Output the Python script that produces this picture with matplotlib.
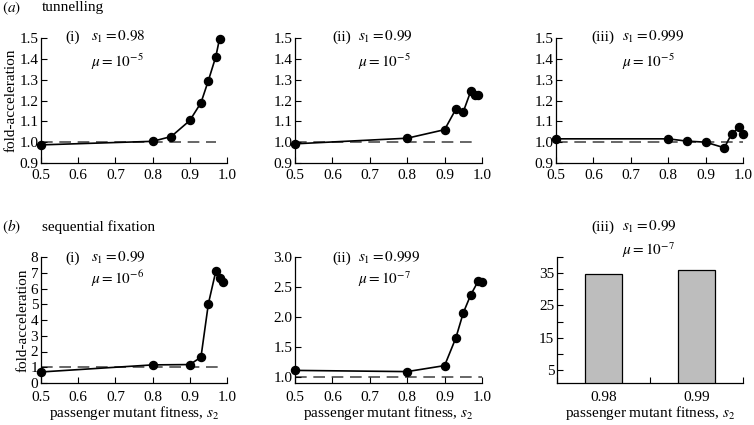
import numpy as np
import matplotlib
matplotlib.use("Agg")
import matplotlib.pyplot as plt

plt.rcParams["font.family"] = ["Liberation Serif", "DejaVu Serif"]
plt.rcParams["mathtext.fontset"] = "stix"
plt.rcParams["font.size"] = 11

# (a) tunnelling
a1_x = [0.5, 0.8, 0.85, 0.9, 0.93, 0.95, 0.97, 0.98]
a1_y = [0.987, 1.004, 1.027, 1.104, 1.189, 1.296, 1.411, 1.497]
a2_x = [0.5, 0.8, 0.9, 0.93, 0.95, 0.97, 0.98, 0.99]
a2_y = [0.992, 1.019, 1.060, 1.158, 1.146, 1.245, 1.225, 1.225]
a3_x = [0.5, 0.8, 0.85, 0.9, 0.95, 0.97, 0.99, 1.0]
a3_y = [1.016, 1.016, 1.005, 1.000, 0.973, 1.041, 1.071, 1.041]

# (b) sequential fixation
b1_x = [0.5, 0.8, 0.9, 0.93, 0.95, 0.97, 0.98, 0.99]
b1_y = [0.70, 1.15, 1.17, 1.64, 5.04, 7.10, 6.64, 6.43]
b2_x = [0.5, 0.8, 0.9, 0.93, 0.95, 0.97, 0.99, 1.0]
b2_y = [1.11, 1.09, 1.19, 1.65, 2.07, 2.37, 2.60, 2.59]
b3_labels = ["0.98", "0.99"]
b3_y = [34.6, 36.1]

W, H = 754, 425
fig = plt.figure(figsize=(W / 100, H / 100), dpi=100)


def px_axes(left, right, top, bottom):
    return fig.add_axes([left / W, 1 - bottom / H, (right - left) / W, (bottom - top) / H])


def style(ax, xpad=4):
    for s in ["top", "right"]:
        ax.spines[s].set_visible(False)
    ax.tick_params(direction="in", length=4.5, width=0.8, labelsize=11)
    ax.tick_params(axis="y", pad=2)
    ax.tick_params(axis="x", pad=xpad)
    ax.spines["left"].set_linewidth(0.9)
    ax.spines["bottom"].set_linewidth(0.9)


def line_panel(ax, x, y, ylim, yticks, dash_end, xpad=4):
    ax.plot([0.5, dash_end], [1.0, 1.0], color="#4d4d4d", lw=1.2, ls=(0, (7, 4)), zorder=1)
    ax.plot(x, y, color="black", lw=1.2, marker="o", ms=5.8, zorder=3, clip_on=False)
    ax.set_xlim(0.5, 1.0)
    ax.set_ylim(*ylim)
    ax.set_xticks(np.arange(0.5, 1.01, 0.1))
    ax.set_xticklabels(["0.5", "0.6", "0.7", "0.8", "0.9", "1.0"])
    ax.set_yticks(yticks)
    style(ax, xpad)


def label(px, py, s, **kw):
    fig.text(px / W, 1 - py / H, s, va="center", ha="left", fontsize=11, **kw)


a_ticks = [0.9, 1.0, 1.1, 1.2, 1.3, 1.4, 1.5]
ax1 = px_axes(41, 227, 38, 163)
line_panel(ax1, a1_x, a1_y, (0.9, 1.5), a_ticks, 0.97)
ax1.set_yticklabels([f"{t:.1f}" for t in a_ticks])
ax2 = px_axes(295, 482, 38, 163)
line_panel(ax2, a2_x, a2_y, (0.9, 1.5), a_ticks, 0.99)
ax2.set_yticklabels([f"{t:.1f}" for t in a_ticks])
ax3 = px_axes(556, 743, 38, 163)
line_panel(ax3, a3_x, a3_y, (0.9, 1.5), a_ticks, 1.0)
ax3.set_yticklabels([f"{t:.1f}" for t in a_ticks])

bx1 = px_axes(41, 227, 257, 383)
line_panel(bx1, b1_x, b1_y, (0, 8), range(0, 9), 0.99, xpad=6)
b2_ticks = [1.0, 1.5, 2.0, 2.5, 3.0]
bx2 = px_axes(295, 482, 257, 383)
line_panel(bx2, b2_x, b2_y, (0.9, 3.0), b2_ticks, 1.0, xpad=6)
bx2.set_yticklabels([f"{t:.1f}" for t in b2_ticks])

bx3 = px_axes(557, 743, 257, 383)
pos = np.arange(len(b3_y)) + 0.5
bx3.bar(pos, b3_y, width=0.4, color="#bdbdbd", edgecolor="black", linewidth=0.9)
bx3.set_xlim(0, 2)
bx3.set_ylim(1, 40)
bx3.set_xticks([0, 1, 2])
bx3.set_xticklabels([])
bx3.set_xticks(pos, minor=True)
bx3.set_xticklabels(b3_labels, minor=True)
bx3.set_yticks(range(5, 41, 5))
bx3.set_yticklabels([str(t) if t % 10 == 5 else "" for t in range(5, 41, 5)])
style(bx3, 6)
bx3.tick_params(axis="x", which="minor", length=0, pad=6)

for ax in (ax1, bx1):
    ax.set_ylabel("fold-acceleration", fontsize=11, labelpad=1)
for ax in (bx1, bx2, bx3):
    ax.set_xlabel("passenger mutant fitness, $s_2$", fontsize=11, labelpad=0)

# panel headings
label(2, 8, "$(a)$")
label(42, 8, "tunnelling")
label(2, 227, "$(b)$")
label(42, 227, "sequential fixation")

# annotations
notes = [
    (65, 91, 37, 62, "(i)", "0.98", "-5"),
    (332, 358, 37, 62, "(ii)", "0.99", "-5"),
    (591, 622, 37, 62, "(iii)", "0.999", "-5"),
    (65, 91, 258, 279, "(i)", "0.99", "-6"),
    (332, 358, 258, 279, "(ii)", "0.999", "-7"),
    (591, 622, 227, 250, "(iii)", "0.99", "-7"),
]
for xr, xs, y1, y2, tag, s1, mu in notes:
    label(xr, y1, tag)
    label(xs, y1, "$s_1 = " + s1 + "$")
    label(xs, y2, "$\\mu = 10^{" + mu + "}$")

fig.savefig("out.png", dpi=100)
